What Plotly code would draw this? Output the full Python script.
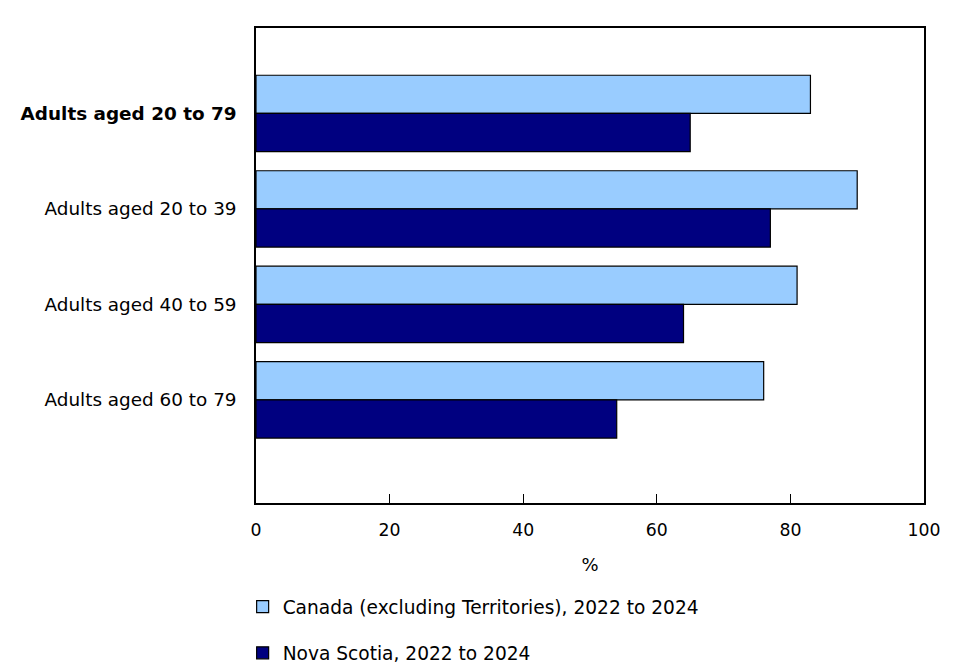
import plotly.graph_objects as go

categories = ["Adults aged 20 to 79", "Adults aged 20 to 39", "Adults aged 40 to 59", "Adults aged 60 to 79"]
tick_labels = ["<b>Adults aged 20 to 79</b>", "Adults aged 20 to 39", "Adults aged 40 to 59", "Adults aged 60 to 79"]
canada = [83, 90, 81, 76]
nova_scotia = [65, 77, 64, 54]
series_names = ["Canada (excluding Territories), 2022 to 2024", "Nova Scotia, 2022 to 2024"]
x_ticks = [0, 20, 40, 60, 80, 100]

font_family = "Verdana, DejaVu Sans, sans-serif"

fig = go.Figure()
fig.add_trace(go.Bar(
    y=categories, x=canada, orientation="h", name=series_names[0],
    marker=dict(color="#99CCFF", line=dict(color="#000000", width=1.2)),
    legendgroup="a",
))
fig.add_trace(go.Bar(
    y=categories, x=nova_scotia, orientation="h", name=series_names[1],
    marker=dict(color="#000080", line=dict(color="#000000", width=1.2)),
    legendgroup="b",
))

fig.update_layout(
    width=969, height=660,
    margin=dict(l=248, r=53, t=20, b=165, autoexpand=False),
    paper_bgcolor="white", plot_bgcolor="white",
    font=dict(family=font_family, size=18, color="#000000"),
    barmode="group", bargap=0.2, bargroupgap=0,
    showlegend=True,
    legend=dict(
        x=-0.02, xanchor="left", y=-0.179, yanchor="top",
        traceorder="grouped", tracegroupgap=19,
        font=dict(family=font_family, size=18.6, color="#000000"),
        bgcolor="rgba(0,0,0,0)",
    ),
)
fig.update_xaxes(
    range=[0, 100], tickvals=x_ticks, ticks="inside", ticklen=9, tickwidth=1.2,
    tickcolor="#000000", showgrid=False, zeroline=False,
    showline=True, linecolor="#000000", linewidth=1.5, mirror=True,
    title=dict(text="%", standoff=20, font=dict(size=18)),
    tickfont=dict(size=17.3), ticklabelstandoff=10,
)
fig.update_yaxes(
    type="category", categoryorder="array", categoryarray=categories,
    range=[4.08, -0.895],
    tickmode="array", tickvals=categories, ticktext=tick_labels,
    ticks="", showgrid=False, zeroline=False,
    showline=True, linecolor="#000000", linewidth=1.5, mirror=True,
    ticklabelstandoff=14, tickfont=dict(size=18.4),
)

fig.write_html("out.html")
